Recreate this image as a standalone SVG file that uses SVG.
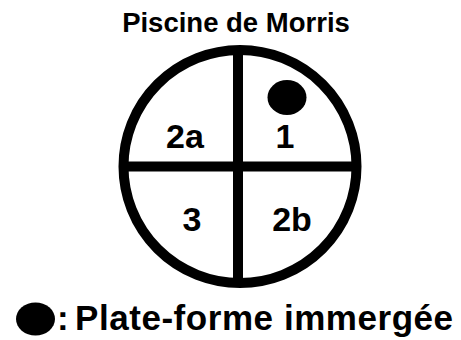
<svg xmlns="http://www.w3.org/2000/svg" width="461" height="340" viewBox="0 0 461 340">
<style>
text{font-family:"Liberation Sans",Arial,sans-serif;font-weight:bold;fill:#000}
.lbl{font-size:34px;text-anchor:middle}
.ln{stroke:#000;stroke-width:10;fill:none}
</style>
<rect width="461" height="340" fill="#fff"/>
<text x="236" y="32" style="font-size:27.5px" text-anchor="middle">Piscine de Morris</text>
<g id="pool">
<circle cx="240" cy="166.5" r="116.5" class="ln"/>
</g>
<g id="connectors">
<line x1="238" y1="48" x2="238" y2="285" class="ln"/>
<line x1="121" y1="166.5" x2="359" y2="166.5" class="ln"/>
</g>
<g id="q2a"><text class="lbl" x="185" y="148">2a</text></g>
<g id="q1"><text class="lbl" x="285" y="148">1</text></g>
<g id="q3"><text class="lbl" x="192" y="231">3</text></g>
<g id="q2b"><text class="lbl" x="292" y="231">2b</text></g>
<g id="platform"><ellipse cx="287" cy="97.5" rx="19.5" ry="17.5" fill="#000"/></g>
<g id="legend">
<ellipse cx="35.5" cy="319" rx="19.5" ry="16.5" fill="#000"/>
<text y="330" style="font-size:35px;letter-spacing:0.55px"><tspan x="57">:</tspan><tspan x="75">Plate-forme immergée</tspan></text>
</g>
</svg>
